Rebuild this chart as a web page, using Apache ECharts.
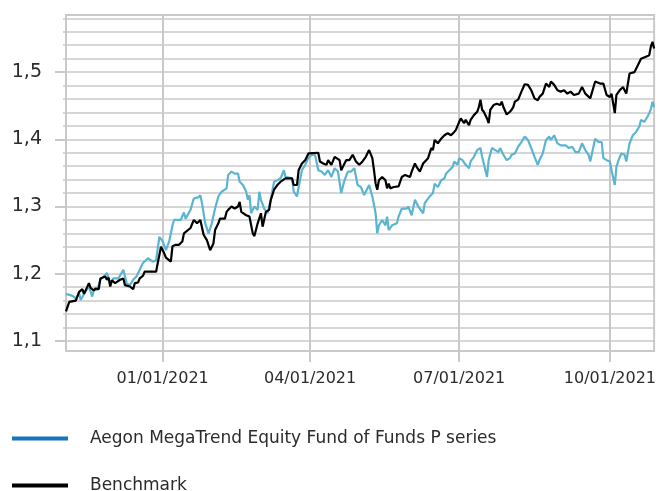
<!DOCTYPE html>
<html>
<head>
<meta charset="utf-8">
<style>
  html, body { margin: 0; padding: 0; background: #fff; }
  #chart { width: 659px; height: 491px; }
</style>
<script src="https://cdn.jsdelivr.net/npm/echarts@6/dist/echarts.min.js"></script>
</head>
<body>
<div id="chart"></div>
<script>
var seriesNames = ['Aegon MegaTrend Equity Fund of Funds P series', 'Benchmark'];

var fundDates = ['2020-11-03','2020-11-07','2020-11-09','2020-11-11','2020-11-12','2020-11-14','2020-11-17','2020-11-19','2020-11-20','2020-11-22','2020-11-24','2020-11-28','2020-11-30','2020-12-02','2020-12-05','2020-12-08','2020-12-10','2020-12-12','2020-12-14','2020-12-16','2020-12-18','2020-12-20','2020-12-23','2020-12-26','2020-12-28','2020-12-30','2021-01-01','2021-01-03','2021-01-05','2021-01-07','2021-01-08','2021-01-12','2021-01-14','2021-01-15','2021-01-18','2021-01-20','2021-01-23','2021-01-24','2021-01-25','2021-01-27','2021-01-29','2021-01-31','2021-02-02','2021-02-04','2021-02-06','2021-02-09','2021-02-10','2021-02-12','2021-02-14','2021-02-16','2021-02-17','2021-02-19','2021-02-21','2021-02-22','2021-02-23','2021-02-24','2021-02-26','2021-02-28','2021-03-01','2021-03-02','2021-03-04','2021-03-06','2021-03-08','2021-03-10','2021-03-12','2021-03-14','2021-03-16','2021-03-17','2021-03-18','2021-03-21','2021-03-22','2021-03-24','2021-03-25','2021-03-27','2021-03-29','2021-03-31','2021-04-02','2021-04-04','2021-04-06','2021-04-08','2021-04-10','2021-04-12','2021-04-14','2021-04-16','2021-04-18','2021-04-20','2021-04-22','2021-04-24','2021-04-26','2021-04-28','2021-04-30','2021-05-02','2021-05-04','2021-05-07','2021-05-09','2021-05-11','2021-05-12','2021-05-13','2021-05-15','2021-05-17','2021-05-18','2021-05-19','2021-05-21','2021-05-24','2021-05-25','2021-05-27','2021-05-30','2021-05-31','2021-06-02','2021-06-04','2021-06-06','2021-06-09','2021-06-10','2021-06-13','2021-06-15','2021-06-16','2021-06-18','2021-06-20','2021-06-22','2021-06-23','2021-06-25','2021-06-27','2021-06-28','2021-06-30','2021-07-01','2021-07-03','2021-07-05','2021-07-07','2021-07-08','2021-07-10','2021-07-12','2021-07-14','2021-07-15','2021-07-18','2021-07-19','2021-07-21','2021-07-23','2021-07-25','2021-07-26','2021-07-28','2021-07-30','2021-08-01','2021-08-02','2021-08-04','2021-08-06','2021-08-08','2021-08-10','2021-08-12','2021-08-14','2021-08-16','2021-08-18','2021-08-19','2021-08-21','2021-08-23','2021-08-25','2021-08-26','2021-08-28','2021-08-30','2021-09-01','2021-09-04','2021-09-06','2021-09-08','2021-09-10','2021-09-12','2021-09-14','2021-09-16','2021-09-18','2021-09-19','2021-09-22','2021-09-24','2021-09-26','2021-09-27','2021-09-29','2021-10-01','2021-10-02','2021-10-04','2021-10-05','2021-10-06','2021-10-08','2021-10-10','2021-10-11','2021-10-13','2021-10-15','2021-10-17','2021-10-19','2021-10-20','2021-10-22','2021-10-24','2021-10-25','2021-10-26','2021-10-27','2021-10-28'];
var fundValues = [1.170,1.167,1.163,1.171,1.161,1.170,1.181,1.166,1.176,1.176,1.191,1.201,1.186,1.193,1.193,1.206,1.186,1.183,1.191,1.196,1.206,1.216,1.223,1.218,1.220,1.255,1.248,1.235,1.248,1.272,1.280,1.280,1.291,1.282,1.295,1.312,1.314,1.317,1.305,1.275,1.260,1.275,1.297,1.315,1.322,1.327,1.347,1.352,1.349,1.349,1.337,1.332,1.322,1.310,1.317,1.290,1.300,1.295,1.322,1.310,1.297,1.290,1.310,1.337,1.339,1.342,1.354,1.344,1.342,1.342,1.322,1.315,1.329,1.354,1.362,1.372,1.377,1.377,1.354,1.352,1.347,1.354,1.344,1.357,1.352,1.320,1.339,1.352,1.352,1.357,1.332,1.329,1.317,1.332,1.315,1.290,1.260,1.272,1.280,1.272,1.285,1.265,1.272,1.275,1.285,1.297,1.297,1.300,1.287,1.310,1.300,1.290,1.305,1.315,1.320,1.334,1.329,1.339,1.342,1.349,1.354,1.359,1.367,1.362,1.372,1.369,1.362,1.357,1.367,1.374,1.384,1.387,1.374,1.344,1.369,1.387,1.384,1.381,1.387,1.377,1.369,1.372,1.377,1.379,1.389,1.396,1.404,1.399,1.387,1.374,1.362,1.369,1.379,1.399,1.404,1.399,1.406,1.394,1.391,1.391,1.387,1.389,1.381,1.381,1.394,1.384,1.377,1.367,1.401,1.396,1.396,1.372,1.369,1.367,1.354,1.332,1.359,1.367,1.379,1.377,1.367,1.394,1.406,1.411,1.419,1.429,1.426,1.434,1.439,1.445,1.456,1.448];

var benchDates = ['2020-11-03','2020-11-05','2020-11-09','2020-11-11','2020-11-13','2020-11-14','2020-11-17','2020-11-18','2020-11-20','2020-11-21','2020-11-23','2020-11-24','2020-11-27','2020-11-28','2020-11-29','2020-11-30','2020-12-01','2020-12-03','2020-12-06','2020-12-08','2020-12-09','2020-12-12','2020-12-14','2020-12-15','2020-12-17','2020-12-18','2020-12-20','2020-12-21','2020-12-22','2020-12-24','2020-12-28','2020-12-29','2020-12-30','2020-12-31','2021-01-02','2021-01-03','2021-01-04','2021-01-06','2021-01-07','2021-01-09','2021-01-11','2021-01-13','2021-01-14','2021-01-18','2021-01-20','2021-01-22','2021-01-24','2021-01-26','2021-01-28','2021-01-30','2021-02-01','2021-02-02','2021-02-04','2021-02-05','2021-02-08','2021-02-09','2021-02-10','2021-02-12','2021-02-14','2021-02-16','2021-02-17','2021-02-18','2021-02-21','2021-02-23','2021-02-25','2021-02-26','2021-02-28','2021-03-02','2021-03-03','2021-03-05','2021-03-07','2021-03-08','2021-03-10','2021-03-12','2021-03-14','2021-03-17','2021-03-21','2021-03-22','2021-03-24','2021-03-25','2021-03-27','2021-03-29','2021-03-31','2021-04-06','2021-04-07','2021-04-09','2021-04-11','2021-04-12','2021-04-14','2021-04-16','2021-04-19','2021-04-20','2021-04-21','2021-04-23','2021-04-25','2021-04-27','2021-04-29','2021-05-01','2021-05-03','2021-05-05','2021-05-07','2021-05-09','2021-05-10','2021-05-11','2021-05-12','2021-05-13','2021-05-15','2021-05-17','2021-05-18','2021-05-19','2021-05-20','2021-05-22','2021-05-25','2021-05-27','2021-05-29','2021-06-01','2021-06-02','2021-06-04','2021-06-05','2021-06-07','2021-06-09','2021-06-10','2021-06-12','2021-06-14','2021-06-15','2021-06-16','2021-06-18','2021-06-20','2021-06-21','2021-06-22','2021-06-24','2021-06-26','2021-06-28','2021-06-29','2021-07-01','2021-07-02','2021-07-04','2021-07-05','2021-07-07','2021-07-08','2021-07-10','2021-07-12','2021-07-13','2021-07-14','2021-07-15','2021-07-16','2021-07-18','2021-07-19','2021-07-20','2021-07-22','2021-07-24','2021-07-26','2021-07-27','2021-07-28','2021-07-30','2021-08-01','2021-08-02','2021-08-03','2021-08-04','2021-08-06','2021-08-08','2021-08-10','2021-08-12','2021-08-14','2021-08-16','2021-08-18','2021-08-19','2021-08-21','2021-08-23','2021-08-25','2021-08-26','2021-08-28','2021-08-30','2021-09-01','2021-09-03','2021-09-05','2021-09-07','2021-09-09','2021-09-12','2021-09-14','2021-09-16','2021-09-19','2021-09-22','2021-09-25','2021-09-27','2021-09-29','2021-10-01','2021-10-02','2021-10-04','2021-10-05','2021-10-07','2021-10-09','2021-10-11','2021-10-13','2021-10-16','2021-10-18','2021-10-20','2021-10-23','2021-10-25','2021-10-26','2021-10-27','2021-10-28'];
var benchValues = [1.144,1.158,1.160,1.173,1.177,1.170,1.186,1.179,1.175,1.178,1.177,1.193,1.196,1.191,1.194,1.181,1.190,1.186,1.191,1.193,1.183,1.181,1.177,1.186,1.187,1.193,1.197,1.203,1.201,1.203,1.203,1.216,1.216,1.240,1.230,1.224,1.226,1.218,1.241,1.243,1.243,1.248,1.260,1.268,1.280,1.275,1.280,1.258,1.250,1.235,1.245,1.265,1.275,1.282,1.282,1.292,1.295,1.300,1.297,1.300,1.307,1.292,1.287,1.285,1.260,1.256,1.275,1.290,1.270,1.292,1.295,1.310,1.325,1.332,1.337,1.342,1.342,1.332,1.332,1.354,1.364,1.369,1.379,1.380,1.367,1.364,1.362,1.369,1.362,1.374,1.369,1.354,1.359,1.369,1.369,1.377,1.367,1.362,1.367,1.374,1.384,1.372,1.354,1.334,1.325,1.339,1.344,1.339,1.327,1.334,1.327,1.329,1.330,1.344,1.347,1.344,1.352,1.364,1.359,1.352,1.364,1.362,1.372,1.387,1.384,1.399,1.394,1.401,1.399,1.406,1.409,1.406,1.411,1.414,1.426,1.431,1.424,1.429,1.421,1.429,1.436,1.441,1.448,1.459,1.444,1.441,1.431,1.424,1.444,1.451,1.453,1.451,1.456,1.448,1.437,1.441,1.444,1.448,1.456,1.459,1.471,1.482,1.481,1.473,1.461,1.458,1.463,1.468,1.483,1.478,1.486,1.481,1.473,1.471,1.473,1.468,1.471,1.466,1.468,1.478,1.468,1.461,1.486,1.483,1.483,1.466,1.463,1.468,1.439,1.466,1.473,1.478,1.468,1.498,1.500,1.510,1.520,1.523,1.525,1.538,1.545,1.535];

// axis ticks
var xTicks = ['2021-01-01', '2021-04-01', '2021-07-01', '2021-10-01'];
var yMajorTicks = [1.1, 1.2, 1.3, 1.4, 1.5];
var yMinorTicks = [1.10,1.12,1.14,1.16,1.18,1.20,1.22,1.24,1.26,1.28,1.30,1.32,1.34,1.36,1.38,1.40,1.42,1.44,1.46,1.48,1.50,1.52,1.54,1.56,1.58];

function toTime(d) {
  return echarts.time.parse(d).getTime();
}
function pairs(dates, values) {
  return dates.map(function (d, i) { return [toTime(d), values[i]]; });
}

var gridColor = '#c9c9c9';
var textColor = '#2b2b2b';
var font = 'DejaVu Sans';

// one legend block per row, stacked like the original
function legendRow(name, color, top) {
  return {
    left: 7, top: top,
    icon: 'rect',
    itemWidth: 56, itemHeight: 4,
    selectedMode: false,
    textStyle: { color: textColor, fontFamily: font, fontSize: 17, padding: [0, 0, 0, 17] },
    data: [{ name: name, itemStyle: { color: color } }]
  };
}

var chart = echarts.init(document.getElementById('chart'));
chart.setOption({
  animation: false,
  grid: {
    left: 66, top: 15, right: 2, bottom: 140,
    show: true, borderColor: gridColor, borderWidth: 2
  },
  legend: [
    legendRow(seriesNames[0], '#1874bd', 425),
    legendRow(seriesNames[1], '#000000', 472)
  ],
  xAxis: {
    type: 'value',
    min: toTime('2020-11-03'),
    max: toTime('2021-10-28'),
    axisLine: { lineStyle: { color: gridColor, width: 2 } },
    axisTick: { show: true, length: 11, customValues: xTicks.map(toTime), lineStyle: { color: gridColor, width: 2 } },
    splitLine: { show: true, lineStyle: { color: gridColor, width: 2 } },
    axisLabel: {
      customValues: xTicks.map(toTime),
      margin: 20,
      color: textColor, fontFamily: font, fontSize: 16,
      formatter: function (v) { return echarts.time.format(v, '{MM}/{dd}/{yyyy}', false); }
    }
  },
  yAxis: [
    {
      type: 'value',
      min: 1.085, max: 1.585,
      axisLine: { show: true, lineStyle: { color: gridColor, width: 2 } },
      axisTick: { show: true, length: 3, customValues: yMinorTicks, lineStyle: { color: gridColor, width: 1.5 } },
      splitLine: { show: true, lineStyle: { color: gridColor, width: 1.5 } },
      axisLabel: { show: false, customValues: yMinorTicks }
    },
    {
      type: 'value',
      position: 'left',
      min: 1.085, max: 1.585,
      axisLine: { show: false },
      axisTick: { show: true, length: 11, customValues: yMajorTicks, lineStyle: { color: gridColor, width: 2 } },
      splitLine: { show: false },
      axisLabel: {
        customValues: yMajorTicks,
        margin: 24,
        color: textColor, fontFamily: font, fontSize: 19,
        formatter: function (v) { return v.toFixed(1).replace('.', ','); }
      }
    }
  ],
  series: [
    {
      name: seriesNames[0],
      type: 'line',
      data: pairs(fundDates, fundValues),
      showSymbol: false,
      lineStyle: { color: '#5bb5d1', width: 2.2 },
      itemStyle: { color: '#5bb5d1' }
    },
    {
      name: seriesNames[1],
      type: 'line',
      data: pairs(benchDates, benchValues),
      showSymbol: false,
      lineStyle: { color: '#000000', width: 2.2 },
      itemStyle: { color: '#000000' }
    }
  ]
});
</script>
</body>
</html>
